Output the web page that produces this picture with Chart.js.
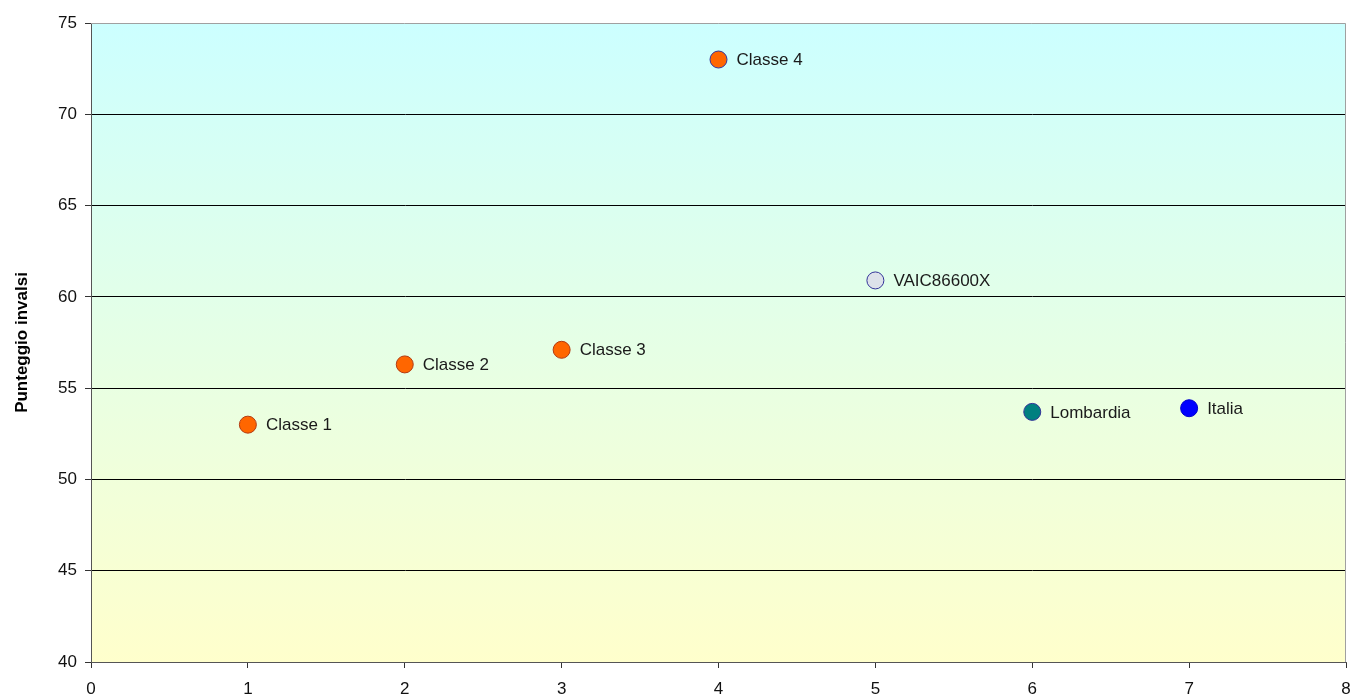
<!DOCTYPE html>
<html lang="it">
<head>
  <meta charset="UTF-8" />
  <title>Punteggio invalsi</title>
  <style>
    html, body {
      margin: 0;
      overflow: hidden;
      background: #ffffff;
    }
    #wrap {
      width: 1353px;
      height: 700px;
      position: relative;
    }
  </style>
</head>
<body>
<div id="wrap"><canvas id="chart"></canvas></div>

<script src="https://cdn.jsdelivr.net/npm/chart.js"></script>
<script>
// data
const names = ['Classe 1', 'Classe 2', 'Classe 3', 'Classe 4', 'VAIC86600X', 'Lombardia', 'Italia'];
const xValues = [1, 2, 3, 4, 5, 6, 7];
const scores = [53.0, 56.3, 57.1, 73.0, 60.9, 53.7, 53.9];
const xTicks = [0, 1, 2, 3, 4, 5, 6, 7, 8];
const yTicks = [40, 45, 50, 55, 60, 65, 70, 75];

const fillColors = ['#FF6600', '#FF6600', '#FF6600', '#FF6600', '#DDE2EA', '#008080', '#0000FF'];
const edgeColors = ['#B33A10', '#B33A10', '#B33A10', '#333399', '#333399', '#333399', '#0000CC'];

const FONT = "'Liberation Sans', Arial, sans-serif";

// gradient behind the plot + grey frame on top/right
const plotBackground = {
  id: 'plotBackground',
  beforeDraw(chart) {
    const { ctx, chartArea: a } = chart;
    const g = ctx.createLinearGradient(0, a.top, 0, a.bottom);
    g.addColorStop(0, '#CCFFFF');
    g.addColorStop(1, '#FFFFCC');
    ctx.save();
    ctx.fillStyle = g;
    ctx.fillRect(a.left, a.top, a.right - a.left, a.bottom - a.top);
    ctx.restore();
  },
  afterDraw(chart) {
    const { ctx, chartArea: a } = chart;
    ctx.save();
    ctx.strokeStyle = '#A0A0A0';
    ctx.lineWidth = 1;
    ctx.beginPath();
    ctx.moveTo(a.left, a.top + 0.5);
    ctx.lineTo(a.right - 0.5, a.top + 0.5);
    ctx.lineTo(a.right - 0.5, a.bottom);
    ctx.stroke();
    ctx.restore();
  }
};

// name written to the right of every point
const pointNames = {
  id: 'pointNames',
  afterDatasetsDraw(chart) {
    const { ctx } = chart;
    const meta = chart.getDatasetMeta(0);
    ctx.save();
    ctx.font = '17px ' + FONT;
    ctx.fillStyle = '#1a1a1a';
    ctx.textBaseline = 'middle';
    meta.data.forEach((pt, i) => {
      ctx.fillText(names[i], pt.x + 18, pt.y + 1);
    });
    ctx.restore();
  }
};

const chart = new Chart(document.getElementById('chart'), {
  type: 'scatter',
  data: {
    datasets: [{
      label: 'Punteggio',
      data: xValues.map((x, i) => ({ x: x, y: scores[i] })),
      backgroundColor: fillColors,
      borderColor: edgeColors,
      borderWidth: 1,
      pointRadius: 8.5,
      pointHoverRadius: 8.5
    }]
  },
  options: {
    responsive: true,
    maintainAspectRatio: false,
    animation: false,
    layout: {
      autoPadding: false,
      padding: { left: 0, top: 23, right: 7, bottom: 0 }
    },
    plugins: {
      legend: { display: false },
      tooltip: { enabled: false }
    },
    scales: {
      x: {
        type: 'linear',
        min: 0,
        max: 8,
        afterBuildTicks(scale) {
          scale.ticks = xTicks.map(v => ({ value: v }));
        },
        afterFit(scale) {
          scale.height = 38;
          scale.paddingLeft = 0;
          scale.paddingRight = 0;
        },
        grid: {
          drawOnChartArea: false,
          tickLength: 6,
          tickColor: '#333333'
        },
        border: { color: '#555555', width: 1 },
        ticks: {
          color: '#111111',
          padding: 11,
          font: { family: FONT, size: 17 }
        }
      },
      y: {
        min: 40,
        max: 75,
        afterBuildTicks(scale) {
          scale.ticks = yTicks.map(v => ({ value: v }));
        },
        afterFit(scale) {
          scale.width = 91;
          scale.paddingTop = 0;
          scale.paddingBottom = 0;
        },
        grid: {
          color: c => (c.tick && (c.tick.value === 40 || c.tick.value === 75)) ? 'rgba(0,0,0,0)' : '#000000',
          lineWidth: 1,
          tickLength: 6,
          tickColor: '#333333'
        },
        border: { color: '#555555', width: 1 },
        ticks: {
          color: '#111111',
          padding: 8,
          font: { family: FONT, size: 17 }
        },
        title: {
          display: true,
          text: 'Punteggio invalsi',
          color: '#000000',
          padding: { top: 12, bottom: 0 },
          font: { family: FONT, size: 17, weight: 'bold' }
        }
      }
    }
  },
  plugins: [plotBackground, pointNames]
});
</script>
</body>
</html>
